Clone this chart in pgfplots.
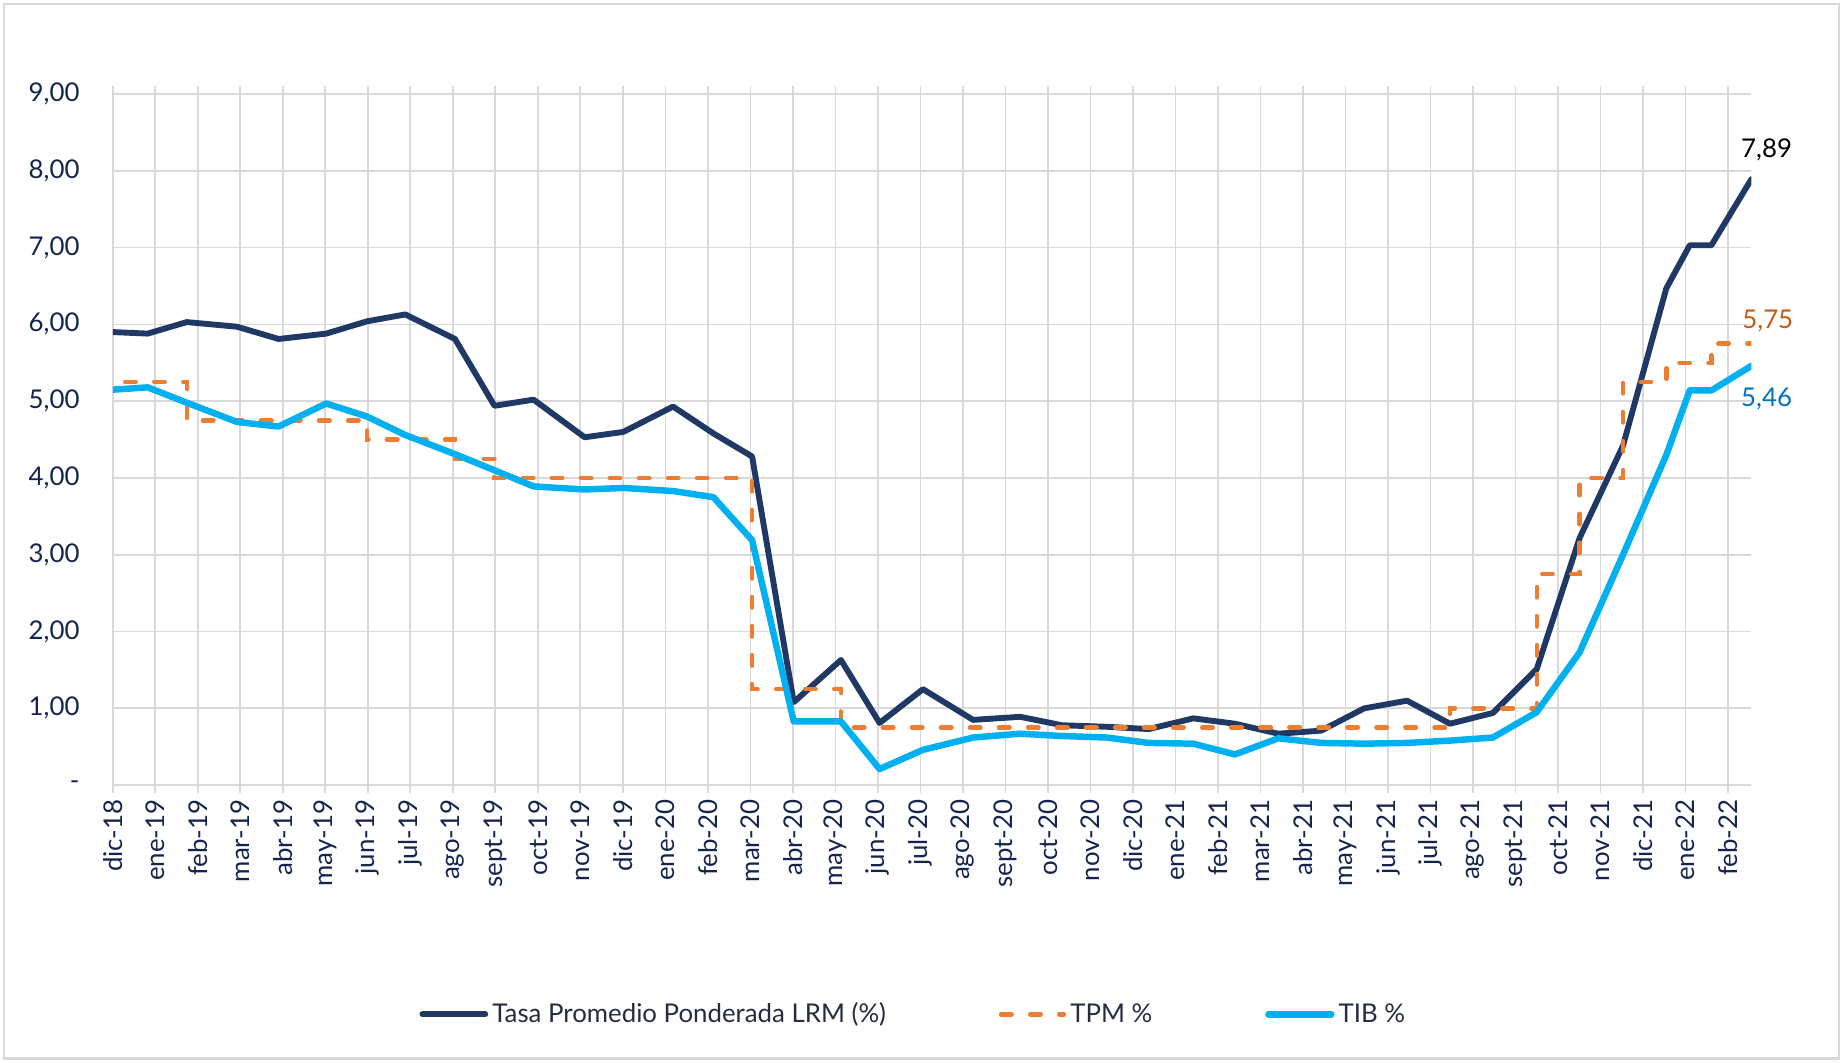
\documentclass[border=0pt]{standalone}
\usepackage{fontspec}
\setmainfont{Lato}
\usepackage{pgfplots}
\usepackage{pgfplotstable}
\pgfplotsset{compat=1.18}
\definecolor{lrm}{HTML}{203864}
\definecolor{tpm}{HTML}{ED7D31}
\definecolor{tib}{HTML}{00B0F0}
\definecolor{gridc}{HTML}{D9D9D9}
\definecolor{ticktext}{HTML}{14244C}
\definecolor{legtext}{HTML}{262C3D}
\definecolor{labtpm}{HTML}{C55A11}
\definecolor{labtib}{HTML}{0070C0}

\pgfplotstableread{
x lrm tpm tib
0 5.90 5.25 5.15
0.82 5.88 5.25 5.18
1.74 6.03 4.75 4.98
2.92 5.97 4.75 4.73
3.90 5.81 4.75 4.67
5.02 5.88 4.75 4.97
5.98 6.04 4.50 4.80
6.88 6.13 4.50 4.56
8.05 5.81 4.25 4.31
8.98 4.94 4.00 4.10
9.90 5.02 4.00 3.89
11.10 4.53 4.00 3.85
12.01 4.60 4.00 3.87
13.18 4.93 4.00 3.83
14.13 4.58 4.00 3.75
15.04 4.28 1.25 3.19
16.02 1.08 1.25 0.83
17.13 1.63 0.75 0.83
18.04 0.81 0.75 0.21
19.06 1.25 0.75 0.46
20.24 0.85 0.75 0.62
21.35 0.89 0.75 0.67
22.33 0.78 0.75 0.64
23.39 0.76 0.75 0.62
24.37 0.73 0.75 0.55
25.42 0.87 0.75 0.54
26.40 0.80 0.75 0.40
27.42 0.67 0.75 0.61
28.43 0.71 0.75 0.55
29.44 1.00 0.75 0.54
30.45 1.10 0.75 0.55
31.46 0.80 1.00 0.58
32.47 0.94 1.00 0.62
33.50 1.51 2.75 0.95
34.51 3.22 4.00 1.73
35.53 4.42 5.25 3.00
36.55 6.47 5.50 4.30
37.10 7.03 5.50 5.14
37.61 7.03 5.75 5.14
38.55 7.89 5.75 5.46
}\data

\begin{document}
\begin{tikzpicture}
\useasboundingbox (0,0) rectangle (31.36cm,18.08cm);
\draw[gridc, line width=0.4mm] (0.07cm,0.07cm) rectangle (31.29cm,18.01cm);
\begin{axis}[
  at={(1.92cm,4.72cm)}, anchor=south west,
  scale only axis, width=27.88cm, height=11.76cm,
  xmin=0, xmax=38.55, ymin=0, ymax=9,
  clip mode=individual,
  axis line style={draw=none},
  xtick={0,...,38},
  xticklabels={dic-18,ene-19,feb-19,mar-19,abr-19,may-19,jun-19,jul-19,ago-19,sept-19,oct-19,nov-19,dic-19,ene-20,feb-20,mar-20,abr-20,may-20,jun-20,jul-20,ago-20,sept-20,oct-20,nov-20,dic-20,ene-21,feb-21,mar-21,abr-21,may-21,jun-21,jul-21,ago-21,sept-21,oct-21,nov-21,dic-21,ene-22,feb-22},
  ytick={0,...,9},
  yticklabels={{-\hspace{0.22cm}},{1,00},{2,00},{3,00},{4,00},{5,00},{6,00},{7,00},{8,00},{9,00}},
  grid=major,
  major grid style={gridc, line width=0.3mm},
  tick align=outside,
  major tick length=0.13cm,
  xtick style={gridc, line width=0.3mm},
  ytick style={draw=none},
  tick label style={font=\fontsize{12.5}{14}\selectfont, text=ticktext},
  xticklabel style={rotate=90, anchor=east, inner sep=0pt},
  xticklabel shift={0.11cm},
  yticklabel style={anchor=east, inner sep=0pt},
  yticklabel shift={0.43cm},
  legend columns=3,
  legend cell align=left,
  legend style={at={(0.4892,-0.3316)}, anchor=center, draw=none, fill=none,
    font=\fontsize{12.5}{14}\selectfont, text=legtext,
    /tikz/every even column/.append style={column sep=1.85cm}},
  legend image code/.code={\draw[#1, dash phase=0mm] (0.05cm,0cm) -- (1.12cm,0cm);},
]
\addplot[lrm, line width=1.0mm, line join=round, line cap=round] table[x=x, y=lrm] {\data};
\addlegendentry{Tasa Promedio Ponderada LRM (\%)}
\addplot[tpm, line width=0.75mm, line cap=round, dash pattern=on 1.8mm off 3.14mm, dash phase=2.84mm, const plot mark left] table[x=x, y=tpm] {\data};
\addlegendentry{TPM \%}
\addplot[tib, line width=1.1mm, line join=round, line cap=round] table[x=x, y=tib] {\data};
\addlegendentry{TIB \%}
\node[font=\fontsize{12.5}{14}\selectfont, text=black] at (axis cs:38.55,7.89) [xshift=0.26cm, yshift=0.5cm] {7,89};
\node[font=\fontsize{12.5}{14}\selectfont, text=labtpm] at (axis cs:38.55,5.75) [xshift=0.28cm, yshift=0.39cm] {5,75};
\node[font=\fontsize{12.5}{14}\selectfont, text=labtib] at (axis cs:38.55,5.46) [xshift=0.26cm, yshift=-0.57cm] {5,46};
\end{axis}
\end{tikzpicture}
\end{document}
